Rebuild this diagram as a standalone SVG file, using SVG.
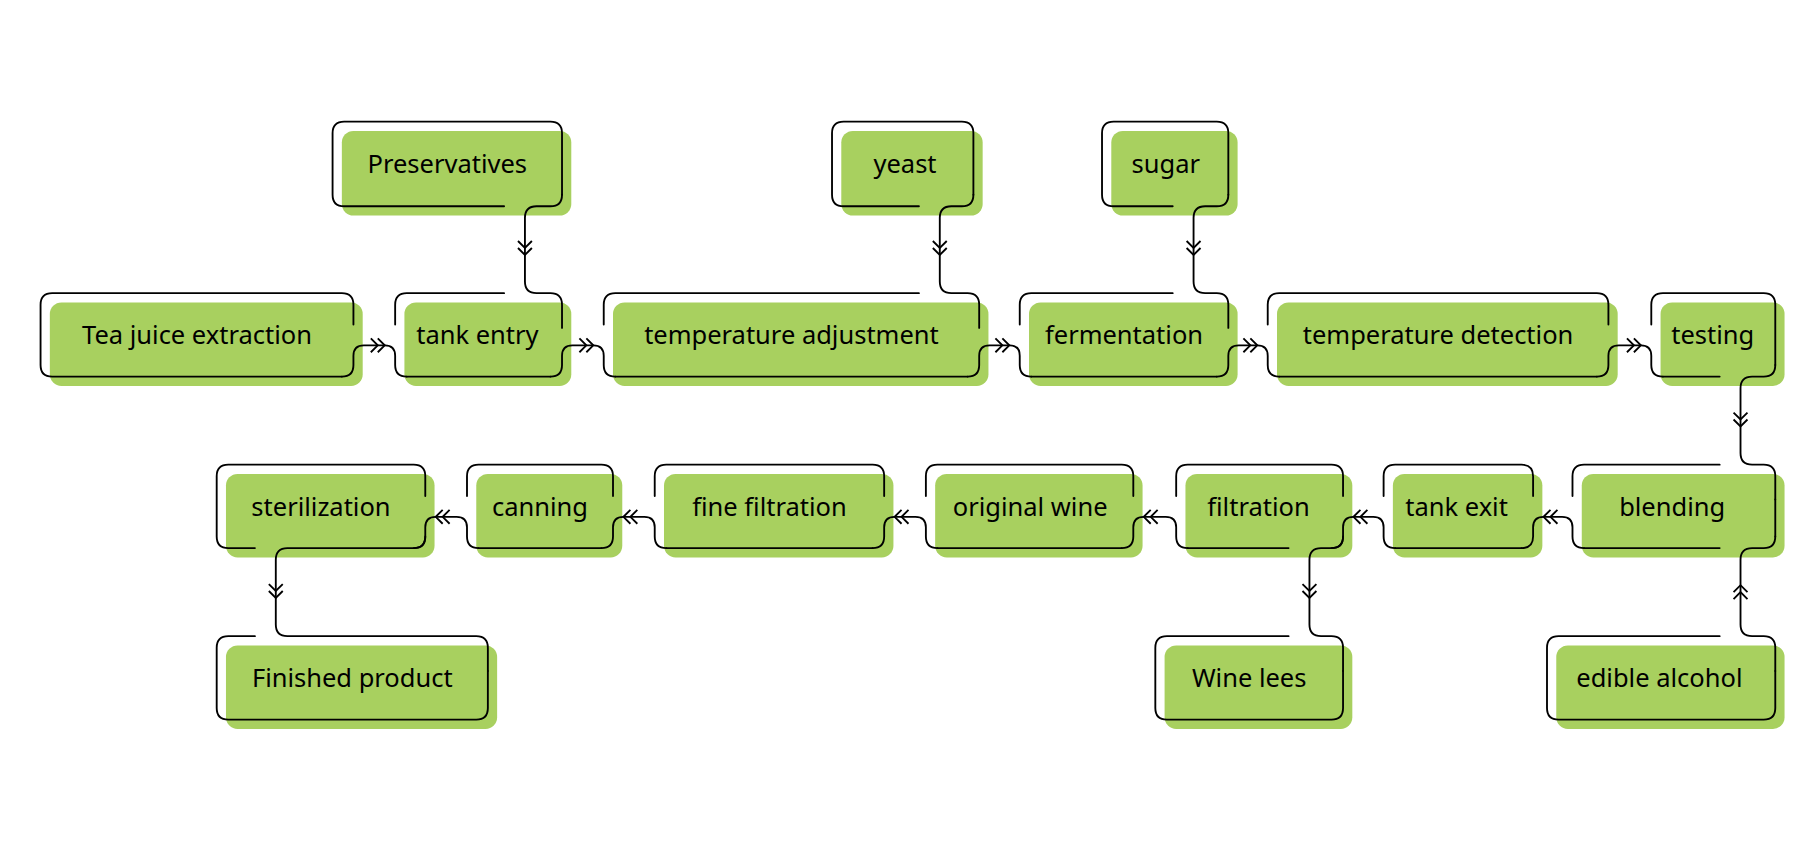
<svg xmlns="http://www.w3.org/2000/svg" xmlns:xlink="http://www.w3.org/1999/xlink" width="1817" height="842" viewBox="0 0 1817 842">
<style>
.bg{fill:#a8d05f}
.ol{fill:none;stroke:#000;stroke-width:1.6;stroke-linecap:round}
.cn{fill:none;stroke:#000;stroke-width:1.6;stroke-linecap:round}
text{font-family:"Noto Sans","Liberation Sans",sans-serif;font-size:22px;fill:#000;text-anchor:middle}
</style>
<defs>
<path id="chev" d="M-12,-6 L-6,0 L-12,6 M-6,-6 L0,0 L-6,6" fill="none" stroke="#000" stroke-width="1.6"/>
</defs>
<rect width="1817" height="842" fill="#fff"/>
<g transform="scale(1.1588)">
<g id="n-preservatives"><rect class="bg" x="295" y="113" width="198" height="73" rx="10"/><path class="ol" d="M485,168 L485,115 Q485,105 475,105 L297,105 Q287,105 287,115 L287,168 Q287,178 297,178 L435,178"/><text x="386" y="149">Preservatives</text></g>
<g id="n-yeast"><rect class="bg" x="726" y="113" width="122" height="73" rx="10"/><path class="ol" d="M840,168 L840,115 Q840,105 830,105 L728,105 Q718,105 718,115 L718,168 Q718,178 728,178 L793,178"/><text x="781" y="149">yeast</text></g>
<g id="n-sugar"><rect class="bg" x="959" y="113" width="109" height="73" rx="10"/><path class="ol" d="M1060,168 L1060,115 Q1060,105 1050,105 L961,105 Q951,105 951,115 L951,168 Q951,178 961,178 L1012,178"/><text x="1006" y="149">sugar</text></g>
<g id="n-tea"><rect class="bg" x="43" y="261" width="270" height="72" rx="10"/><path class="ol" d="M305,280 L305,263 Q305,253 295,253 L45,253 Q35,253 35,263 L35,315 Q35,325 45,325 L295,325"/><text x="170" y="297">Tea juice extraction</text></g>
<g id="n-tankentry"><rect class="bg" x="349" y="261" width="144" height="72" rx="10"/><path class="ol" d="M435,253 L351,253 Q341,253 341,263 L341,280 M351,325 L475,325"/><text x="412" y="297">tank entry</text></g>
<g id="n-tempadj"><rect class="bg" x="529" y="261" width="324" height="72" rx="10"/><path class="ol" d="M793,253 L531,253 Q521,253 521,263 L521,280 M531,325 L835,325"/><text x="683" y="297">temperature adjustment</text></g>
<g id="n-ferm"><rect class="bg" x="888" y="261" width="180" height="72" rx="10"/><path class="ol" d="M1012,253 L890,253 Q880,253 880,263 L880,280 M890,325 L1050,325"/><text x="970" y="297">fermentation</text></g>
<g id="n-tempdet"><rect class="bg" x="1102" y="261" width="294" height="72" rx="10"/><path class="ol" d="M1388,280 L1388,263 Q1388,253 1378,253 L1104,253 Q1094,253 1094,263 L1094,280 M1104,325 L1378,325"/><text x="1241" y="297">temperature detection</text></g>
<g id="n-testing"><rect class="bg" x="1433" y="261" width="107" height="72" rx="10"/><path class="ol" d="M1532,315 L1532,263 Q1532,253 1522,253 L1435,253 Q1425,253 1425,263 L1425,280 M1435,325 L1484,325"/><text x="1478" y="297">testing</text></g>
<g id="n-steril"><rect class="bg" x="195" y="409" width="180" height="72" rx="10"/><path class="ol" d="M367,428 L367,411 Q367,401 357,401 L197,401 Q187,401 187,411 L187,463 Q187,473 197,473 L220,473"/><text x="277" y="445">sterilization</text></g>
<g id="n-canning"><rect class="bg" x="411" y="409" width="126" height="72" rx="10"/><path class="ol" d="M529,428 L529,411 Q529,401 519,401 L413,401 Q403,401 403,411 L403,428 M413,473 L519,473"/><text x="466" y="445">canning</text></g>
<g id="n-fine"><rect class="bg" x="573" y="409" width="198" height="72" rx="10"/><path class="ol" d="M763,428 L763,411 Q763,401 753,401 L575,401 Q565,401 565,411 L565,428 M575,473 L753,473"/><text x="664" y="445">fine filtration</text></g>
<g id="n-orig"><rect class="bg" x="807" y="409" width="179" height="72" rx="10"/><path class="ol" d="M978,428 L978,411 Q978,401 968,401 L809,401 Q799,401 799,411 L799,428 M809,473 L968,473"/><text x="889" y="445">original wine</text></g>
<g id="n-filt"><rect class="bg" x="1023" y="409" width="144" height="72" rx="10"/><path class="ol" d="M1159,428 L1159,411 Q1159,401 1149,401 L1025,401 Q1015,401 1015,411 L1015,428 M1025,473 L1112,473"/><text x="1086" y="445">filtration</text></g>
<g id="n-tankexit"><rect class="bg" x="1202" y="409" width="129" height="72" rx="10"/><path class="ol" d="M1323,428 L1323,411 Q1323,401 1313,401 L1204,401 Q1194,401 1194,411 L1194,428 M1204,473 L1313,473"/><text x="1257" y="445">tank exit</text></g>
<g id="n-blending"><rect class="bg" x="1365" y="409" width="175" height="72" rx="10"/><path class="ol" d="M1484,401 L1367,401 Q1357,401 1357,411 L1357,428 M1367,473 L1484,473 M1532,431 L1532,463"/><text x="1443" y="445">blending</text></g>
<g id="n-finished"><rect class="bg" x="195" y="557" width="234" height="72" rx="10"/><path class="ol" d="M220,549 L197,549 Q187,549 187,559 L187,611 Q187,621 197,621 L411,621 Q421,621 421,611 L421,579"/><text x="304" y="593">Finished product</text></g>
<g id="n-lees"><rect class="bg" x="1005" y="557" width="162" height="72" rx="10"/><path class="ol" d="M1112,549 L1007,549 Q997,549 997,559 L997,611 Q997,621 1007,621 L1149,621 Q1159,621 1159,611 L1159,579"/><text x="1078" y="593">Wine lees</text></g>
<g id="n-alcohol"><rect class="bg" x="1343" y="557" width="197" height="72" rx="10"/><path class="ol" d="M1484,549 L1345,549 Q1335,549 1335,559 L1335,611 Q1335,621 1345,621 L1522,621 Q1532,621 1532,611 L1532,579"/><text x="1432" y="593">edible alcohol</text></g>
<g id="connectors">
<path class="cn" d="M295,325 Q305,325 305,315 L305,307 Q305,298 314,298 L332,298 Q341,298 341,307 L341,315 Q341,325 351,325"/>
<path class="cn" d="M475,325 Q485,325 485,315 L485,307 Q485,298 494,298 L512,298 Q521,298 521,307 L521,315 Q521,325 531,325"/>
<path class="cn" d="M835,325 Q845,325 845,315 L845,307 Q845,298 854,298 L871,298 Q880,298 880,307 L880,315 Q880,325 890,325"/>
<path class="cn" d="M1050,325 Q1060,325 1060,315 L1060,307 Q1060,298 1069,298 L1085,298 Q1094,298 1094,307 L1094,315 Q1094,325 1104,325"/>
<path class="cn" d="M1378,325 Q1388,325 1388,315 L1388,307 Q1388,298 1397,298 L1416,298 Q1425,298 1425,307 L1425,315 Q1425,325 1435,325"/>
<path class="cn" d="M357,473 Q367,473 367,463 L367,455 Q367,446 376,446 L394,446 Q403,446 403,455 L403,463 Q403,473 413,473"/>
<path class="cn" d="M519,473 Q529,473 529,463 L529,455 Q529,446 538,446 L556,446 Q565,446 565,455 L565,463 Q565,473 575,473"/>
<path class="cn" d="M753,473 Q763,473 763,463 L763,455 Q763,446 772,446 L790,446 Q799,446 799,455 L799,463 Q799,473 809,473"/>
<path class="cn" d="M968,473 Q978,473 978,463 L978,455 Q978,446 987,446 L1006,446 Q1015,446 1015,455 L1015,463 Q1015,473 1025,473"/>
<path class="cn" d="M1149,473 Q1159,473 1159,463 L1159,455 Q1159,446 1168,446 L1185,446 Q1194,446 1194,455 L1194,463 Q1194,473 1204,473"/>
<path class="cn" d="M1313,473 Q1323,473 1323,463 L1323,455 Q1323,446 1332,446 L1348,446 Q1357,446 1357,455 L1357,463 Q1357,473 1367,473"/>
<path class="cn" d="M485,168 Q485,178 475,178 L463,178 Q453,178 453,188 L453,243 Q453,253 463,253 L475,253 Q485,253 485,263 L485,283"/>
<path class="cn" d="M840,168 Q840,178 830,178 L821,178 Q811,178 811,188 L811,243 Q811,253 821,253 L835,253 Q845,253 845,263 L845,283"/>
<path class="cn" d="M1060,168 Q1060,178 1050,178 L1040,178 Q1030,178 1030,188 L1030,243 Q1030,253 1040,253 L1050,253 Q1060,253 1060,263 L1060,283"/>
<path class="cn" d="M1532,315 Q1532,325 1522,325 L1512,325 Q1502,325 1502,335 L1502,391 Q1502,401 1512,401 L1522,401 Q1532,401 1532,411 L1532,431"/>
<path class="cn" d="M1159,463 Q1159,473 1149,473 L1140,473 Q1130,473 1130,483 L1130,539 Q1130,549 1140,549 L1149,549 Q1159,549 1159,559 L1159,579"/>
<path class="cn" d="M1532,463 Q1532,473 1522,473 L1512,473 Q1502,473 1502,483 L1502,539 Q1502,549 1512,549 L1522,549 Q1532,549 1532,559 L1532,579"/>
<path class="cn" d="M367,463 Q367,473 357,473 L248,473 Q238,473 238,483 L238,539 Q238,549 248,549 L411,549 Q421,549 421,559 L421,579"/>
<use xlink:href="#chev" transform="translate(332,298)"/>
<use xlink:href="#chev" transform="translate(512,298)"/>
<use xlink:href="#chev" transform="translate(871,298)"/>
<use xlink:href="#chev" transform="translate(1085,298)"/>
<use xlink:href="#chev" transform="translate(1416,298)"/>
<use xlink:href="#chev" transform="translate(376,446) rotate(180)"/>
<use xlink:href="#chev" transform="translate(538,446) rotate(180)"/>
<use xlink:href="#chev" transform="translate(772,446) rotate(180)"/>
<use xlink:href="#chev" transform="translate(987,446) rotate(180)"/>
<use xlink:href="#chev" transform="translate(1168,446) rotate(180)"/>
<use xlink:href="#chev" transform="translate(1332,446) rotate(180)"/>
<use xlink:href="#chev" transform="translate(453,220) rotate(90)"/>
<use xlink:href="#chev" transform="translate(811,220) rotate(90)"/>
<use xlink:href="#chev" transform="translate(1030,220) rotate(90)"/>
<use xlink:href="#chev" transform="translate(1502,368) rotate(90)"/>
<use xlink:href="#chev" transform="translate(1130,516) rotate(90)"/>
<use xlink:href="#chev" transform="translate(238,516) rotate(90)"/>
<use xlink:href="#chev" transform="translate(1502,505) rotate(-90)"/>
</g>
</g>
</svg>
